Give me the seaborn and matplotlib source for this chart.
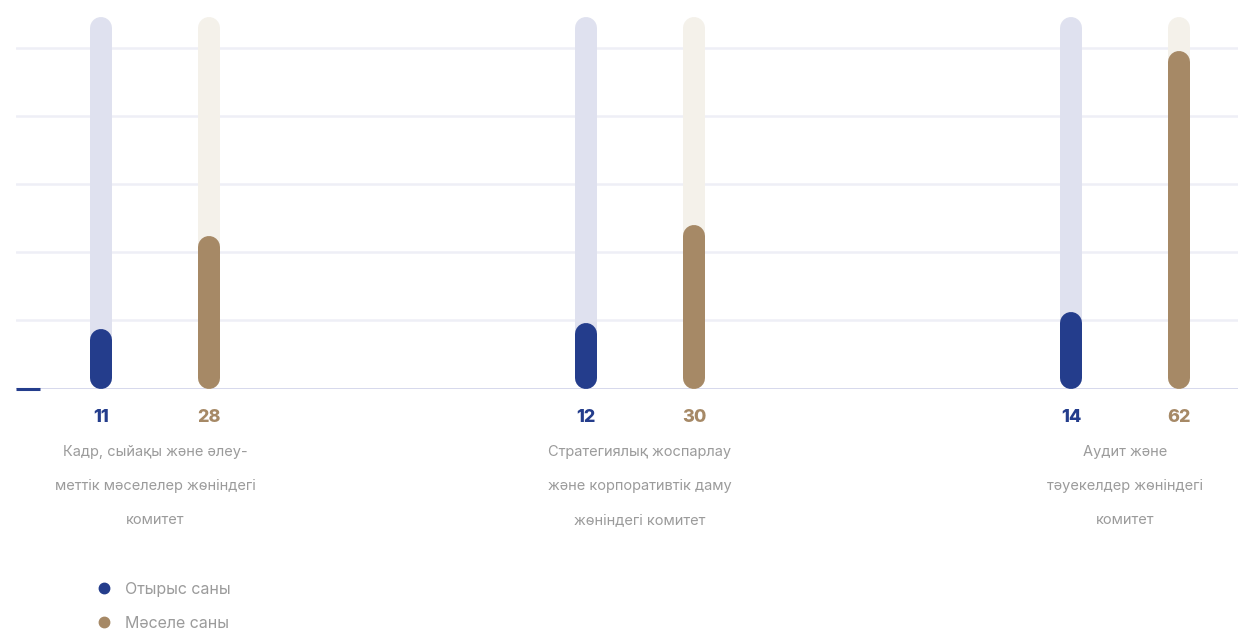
import matplotlib
matplotlib.use("Agg")
import matplotlib.pyplot as plt
import matplotlib.transforms as mtransforms
from matplotlib.lines import Line2D
import pandas as pd
import seaborn as sns

sns.set_theme(style="white")
plt.rcParams['font.family'] = ['Inter', 'DejaVu Sans']

committees = [
    "Кадр, сыйақы және әлеу-\nметтік мәселелер жөніндегі\nкомитет",
    "Стратегиялық жоспарлау\nжәне корпоративтік даму\nжөніндегі комитет",
    "Аудит және\nтәуекелдер жөніндегі\nкомитет",
]
series = ["Отырыс саны", "Мәселе саны"]
meetings = [11, 12, 14]
issues = [28, 30, 62]

colors = ["#243d8c", "#a68966"]
tracks = ["#dfe1ef", "#f4f1ea"]
gray = "#9b9b9b"

df = pd.DataFrame({
    "committee": committees * 2,
    "series": [series[0]] * 3 + [series[1]] * 3,
    "value": meetings + issues,
})

fig = plt.figure(figsize=(12.38, 6.29), dpi=100)
ax = fig.add_axes([16 / 1238, 1 - 388.5 / 629, 1222 / 1238, 388.5 / 629])

sns.barplot(data=df, x="committee", y="value", hue="series", palette=colors,
            width=0.445, gap=0.8, legend=False, ax=ax)

ax.set_xlim(-0.2866, 2.233)
ax.set_ylim(0, 71.28)
ax.set_yticks([12.5, 25, 37.5, 50, 62.5])
ax.grid(axis="y", color="#eeeff6", linewidth=1.8, zorder=0)
ax.grid(axis="x", visible=False)
ax.set_xticks([])
ax.set_yticklabels([])
ax.tick_params(left=False, bottom=False)
ax.set_xlabel("")
ax.set_ylabel("")
for s in ax.spines.values():
    s.set_visible(False)
ax.axhline(0, color="#d3d5ea", linewidth=2.0, zorder=1)

# rounded bars: replace rectangles with round-capped thick lines
lw_px = 22
px_per_unit = ax.bbox.height / 71.28
r = (lw_px / 2) / px_per_unit
track_top = max(issues) * 1.1
lw_pt = lw_px * 72 / fig.dpi
for cont, col, trk in zip(ax.containers, colors, tracks):
    for p in cont.patches:
        xc = p.get_x() + p.get_width() / 2
        h = p.get_height()
        p.set_visible(False)
        ax.plot([xc, xc], [r, track_top - r], color=trk, lw=lw_pt,
                solid_capstyle="round", zorder=2, clip_on=False)
        ax.plot([xc, xc], [r, h - r], color=col, lw=lw_pt,
                solid_capstyle="round", zorder=3, clip_on=False)
        ax.annotate(f"{int(h)}", xy=(xc, 0), xytext=(0, -29.5 * 0.72),
                    textcoords="offset points", ha="center", va="center",
                    fontsize=13, fontweight="heavy", color=col)

# category labels under each group
for i, lab in enumerate(committees):
    for j, line in enumerate(lab.split("\n")):
        ax.annotate(line, xy=(i, 0), xytext=(0, -(63.5 + 34 * j) * 0.72),
                    textcoords="offset points", ha="center", va="center",
                    fontsize=10.5, color=gray)

# small blue mark at the start of the baseline
trans = mtransforms.blended_transform_factory(ax.transAxes, ax.transData)
ax.plot([0, 24 / 1222], [0, 0], color=colors[0], lw=2.2, transform=trans,
        zorder=4, clip_on=False, solid_capstyle="butt")

handles = [Line2D([], [], marker="o", linestyle="", markersize=7.5,
                  markerfacecolor=c, markeredgecolor=c) for c in colors]
leg = fig.legend(handles, series, loc="center left",
                 bbox_to_anchor=(88 / 1238, 1 - 606.5 / 629), frameon=False,
                 fontsize=11.5, handlelength=1.0, handletextpad=0.8,
                 labelspacing=1.2, borderpad=0)
for t in leg.get_texts():
    t.set_color(gray)

fig.savefig("out.png", dpi=100)
